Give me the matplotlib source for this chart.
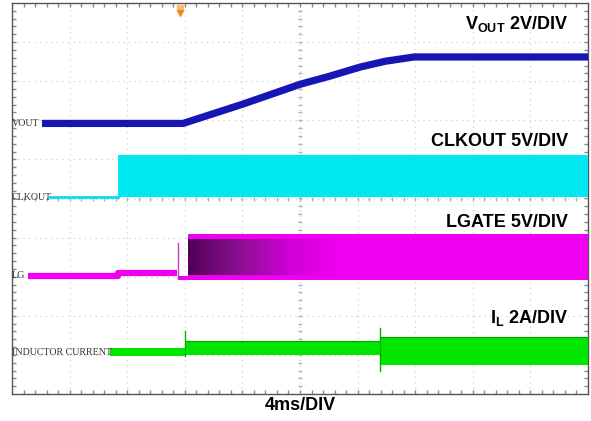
import numpy as np
import matplotlib.pyplot as plt
from matplotlib.colors import LinearSegmentedColormap

plt.rcParams['font.family'] = ['Liberation Sans', 'DejaVu Sans']
plt.rcParams['mathtext.fontset'] = 'custom'
plt.rcParams['mathtext.rm'] = 'Liberation Sans'
plt.rcParams['mathtext.bf'] = 'Liberation Sans:bold'

# scope screen: 10 x 10 divisions, values in divisions
# VOUT soft-start ramp
vout_t = [0.52, 2.97, 4.0, 5.0, 5.52, 6.04, 6.48, 6.98, 10.0]
vout_v = [6.92, 6.92, 7.41, 7.92, 8.13, 8.36, 8.51, 8.62, 8.62]

# CLKOUT: low line, then switching band
clk_low_t = [0.66, 1.84]
clk_low = 5.05
clk_band_t = [1.84, 10.0]
clk_band = (5.03, 6.10)

# LGATE
lg_low_t = [0.28, 1.84, 1.84, 2.86]
lg_low_v = [3.03, 3.03, 3.09, 3.09]
lg_spike_t = 2.88
lg_spike = (3.0, 3.85)
lg_band_t = [3.06, 10.0]
lg_band = (2.92, 4.08)
lg_dark_t = (3.06, 5.7)

# inductor current: (start, end, bottom, top)
il_segs = [(1.70, 3.00, 0.97, 1.18),
           (3.00, 6.39, 1.00, 1.36),
           (6.39, 10.0, 0.74, 1.46)]
il_spikes = [(3.00, 0.97, 1.62), (6.39, 0.60, 1.70)]

fig = plt.figure(figsize=(5.91, 4.21), dpi=100)
ax = fig.add_axes([12/591, 27/421, 576/591, 391/421])
ax.set_xlim(0, 10)
ax.set_ylim(0, 10)
ax.set_xticks([])
ax.set_yticks([])
for s in ax.spines.values():
    s.set_color('#555555')
    s.set_linewidth(1.0)

# dotted graticule
for k in range(1, 10):
    ax.axvline(k, color='#c8c8c8', lw=0.8, ls=(0, (1, 4)), zorder=0)
    ax.axhline(k, color='#c8c8c8', lw=0.8, ls=(0, (1, 4)), zorder=0)
minor = np.arange(0.2, 10, 0.2)
ax.plot(minor, [5]*len(minor), ls='none', marker='|', ms=3, color='#b0b0b0', zorder=0)
ax.plot([5]*len(minor), minor, ls='none', marker='_', ms=3, color='#b0b0b0', zorder=0)
ax.plot(minor, [0.05]*len(minor), ls='none', marker='|', ms=3, color='#888888', zorder=0)
ax.plot(minor, [9.95]*len(minor), ls='none', marker='|', ms=3, color='#888888', zorder=0)
ax.plot([0.03]*len(minor), minor, ls='none', marker='_', ms=3, color='#888888', zorder=0)
ax.plot([9.97]*len(minor), minor, ls='none', marker='_', ms=3, color='#888888', zorder=0)

# VOUT
ax.plot(vout_t, vout_v, color='#1616b4', lw=5.2, solid_capstyle='butt', zorder=3)

# CLKOUT
ax.plot(clk_low_t, [clk_low]*2, color='#00e0ee', lw=2, zorder=3)
ax.fill_between(clk_band_t, clk_band[0], clk_band[1], color='#00e8f0', lw=0, zorder=3)

# LGATE
ax.plot(lg_low_t, lg_low_v, color='#f000f0', lw=4.5, solid_capstyle='butt', zorder=3)
ax.plot([lg_spike_t]*2, lg_spike, color='#c040c0', lw=1, zorder=3)
ax.plot([2.92, 3.06], [2.97, 2.97], color='#f000f0', lw=3, zorder=3)
ax.fill_between(lg_band_t, lg_band[0], lg_band[1], color='#f000f0', lw=0, zorder=3)
cm = LinearSegmentedColormap.from_list('lg', ['#520058', '#8a1090', '#d000d8', '#f000f0'])
grad = np.linspace(0, 1, 256)[None, :]
ax.imshow(grad, cmap=cm, extent=(lg_dark_t[0], lg_dark_t[1], 3.05, 3.95),
          aspect='auto', zorder=4, interpolation='bilinear')

# inductor current
for t0, t1, lo, hi in il_segs:
    ax.fill_between([t0, t1], lo, hi, color='#00e600', lw=0, zorder=3)
    if t0 > 2:
        ax.plot([t0, t1], [hi, hi], color='#00a000', lw=0.8, zorder=3)
for t, lo, hi in il_spikes:
    ax.plot([t, t], [lo, hi], color='#00b000', lw=1, zorder=3)

# channel labels
lab = dict(fontsize=7.2, color='#333333', va='center', ha='left',
           family=['Liberation Serif'], zorder=5)
ax.text(0.0, 6.92, 'VOUT', **lab)
ax.text(0.0, 5.03, 'CLKOUT', **lab)
ax.text(0.0, 3.03, 'LG', **lab)
ax.text(0.0, 1.05, 'INDUCTOR CURRENT', **lab)

# scale annotations
big = dict(fontsize=13, fontweight='bold', ha='right', va='baseline', zorder=6)
ax.text(9.65, 9.33, r'$\mathbf{V_{OUT}}$ 2V/DIV', **big)
ax.text(9.65, 6.33, 'CLKOUT 5V/DIV', **big)
ax.text(9.65, 4.28, 'LGATE 5V/DIV', **big)
ax.text(9.65, 1.82, r'$\mathbf{I_{L}}$ 2A/DIV', **big)

# trigger marker
ax.plot([2.92], [9.88], marker='s', ms=4, color='#f5c070', clip_on=False, zorder=6)
ax.plot([2.92], [9.74], marker='v', ms=5, color='#e89020', clip_on=False, zorder=6)

fig.text(300/591, 1 - 405/421, '4ms/DIV', fontsize=13, fontweight='bold',
         ha='center', va='center')

fig.savefig('out.png', dpi=100)
